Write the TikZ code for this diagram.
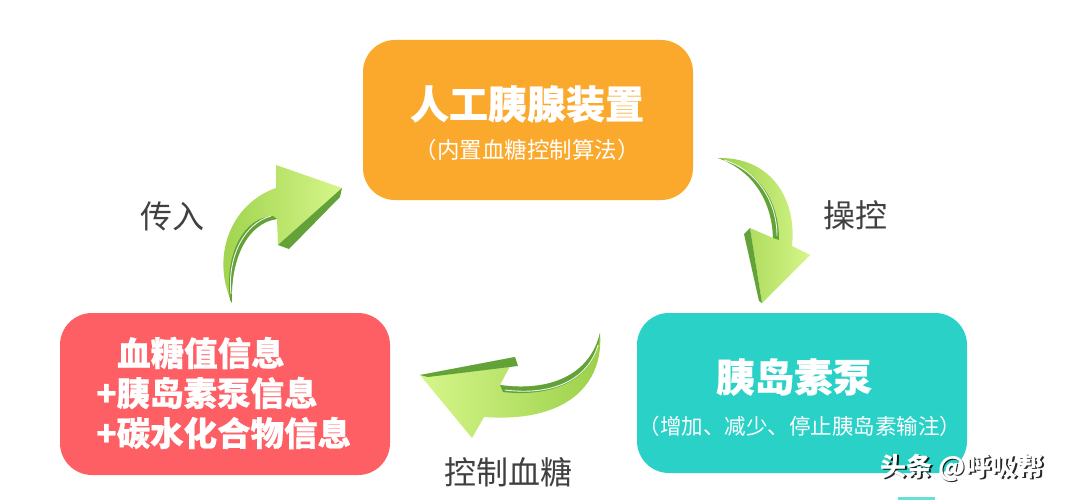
\documentclass[tikz,border=0pt]{standalone}
\usepackage{fontspec}
\newfontfamily\cjk{Noto Sans CJK SC}
\newfontfamily\cjkheavy{Noto Sans CJK SC}[FakeBold=0.6]
\definecolor{orangebox}{RGB}{251,169,45}
\definecolor{redbox}{RGB}{253,95,101}
\definecolor{tealbox}{RGB}{41,209,199}
\definecolor{labelgray}{RGB}{64,64,64}
\definecolor{glight}{RGB}{214,246,138}
\definecolor{gmid}{RGB}{155,208,72}
\definecolor{gdark}{RGB}{98,162,56}
\tikzset{
  box/.style={rounded corners=32pt, minimum width=330pt, inner sep=0pt, draw=none},
  title/.style={text=white, inner sep=0pt, font=\cjkheavy\bfseries\fontsize{39}{42}\selectfont},
  sub/.style={text=white, inner sep=0pt, font=\cjk\fontsize{22.5}{25}\selectfont},
  redtxt/.style={text=white, inner sep=0pt, anchor=west, font=\cjkheavy\bfseries\fontsize{33.5}{36}\selectfont},
  lbl/.style={text=labelgray, inner sep=0pt, font=\cjk\fontsize{32}{34}\selectfont},
  arrowbody/.style={shading=axis, draw=none},
  darkface/.style={fill=gdark, draw=none},
  hilite/.style={draw=white, line width=0.9pt, opacity=0.9},
  wmfont/.style={inner sep=0pt, font=\cjk\bfseries\fontsize{26}{28}\selectfont},
}
\begin{document}
\begin{tikzpicture}[x=1pt,y=-1pt]
\useasboundingbox[fill=white] (0,0) rectangle (1065,500);

% boxes
\node[box, fill=orangebox, minimum height=160pt] (dev) at (528,120) {};
\node[box, fill=redbox, minimum height=162pt] (info) at (225,394) {};
\node[box, fill=tealbox, minimum height=160pt] (pump) at (802,393) {};

% box texts
\node[title] (devt) at (527,104) {人工胰腺装置};
\node[sub] (devs) at (527,150) {（内置血糖控制算法）};
\node[title] (pumpt) at (794,377) {胰岛素泵};
\node[sub, font=\cjk\fontsize{21.5}{24}\selectfont] (pumps) at (800,426) {（增加、减少、停止胰岛素输注）};
\node[redtxt] (i1) at (117,353) {血糖值信息};
\node[redtxt] (i2) at (96,393) {+胰岛素泵信息};
\node[redtxt] (i3) at (96,433) {+碳水化合物信息};

% labels
\node[lbl] (in) at (172,216) {传入};
\node[lbl] (ctl) at (855,215) {操控};
\node[lbl] (bg) at (508,472) {控制血糖};

% arrow 1 (up-right, to device)
\path[arrowbody, left color=gmid, right color=glight]
  (232,303) .. controls (210,255) and (232,203) .. (276,188) -- (276,165) -- (342,188) -- (278,245) -- (277,219)
  .. controls (247,223) and (230,260) .. (232,303) -- cycle;
\path[darkface] (342,188) -- (340,197) -- (289,249) -- (278,245) -- cycle;
\path[darkface] (232,303) .. controls (230,260) and (247,223) .. (277,219) -- (273,216)
  .. controls (245,217) and (224,252) .. (230,300) -- cycle;
\path[hilite] (231,294) .. controls (227,256) and (245,223) .. (271,216);

% arrow 2 (down, to pump)
\path[arrowbody, left color=gmid, right color=glight]
  (718,158) .. controls (772,157) and (797,200) .. (792,246) -- (810,255) -- (762,303) -- (750,228) -- (773,238)
  .. controls (772,200) and (752,170) .. (718,158) -- cycle;
\path[darkface] (750,228) -- (744,234) -- (759,301) -- (762,303) -- cycle;
\path[darkface] (718,158) .. controls (752,170) and (772,200) .. (773,238) -- (779,240)
  .. controls (779,198) and (756,168) .. (718,158) -- cycle;
\path[hilite] (724,160) .. controls (756,170) and (777,200) .. (777,236);

% arrow 3 (left, to info)
\path[arrowbody, left color=glight, right color=gmid]
  (600,333) .. controls (590,375) and (550,392) .. (500,385) -- (515,357) -- (420,375) -- (472,438) -- (484,417)
  .. controls (566,423) and (604,385) .. (600,333) -- cycle;
\path[darkface] (420,375) -- (515,357) -- (518,366) -- (428,377) -- cycle;
\path[darkface] (600,333) .. controls (590,375) and (550,392) .. (500,385) -- (503,392)
  .. controls (555,398) and (597,378) .. (600,333) -- cycle;
\path[hilite] (598,345) .. controls (588,380) and (552,396) .. (505,390);

% watermark
\node[wmfont, text=black, opacity=0.85] (wms) at (963.5,469) {头条 @呼吸帮};
\node[wmfont, text=white] (wm) at (962,467.5) {头条 @呼吸帮};
\fill[tealbox!70!white] (898,497) rectangle (935,500);
\end{tikzpicture}
\end{document}
